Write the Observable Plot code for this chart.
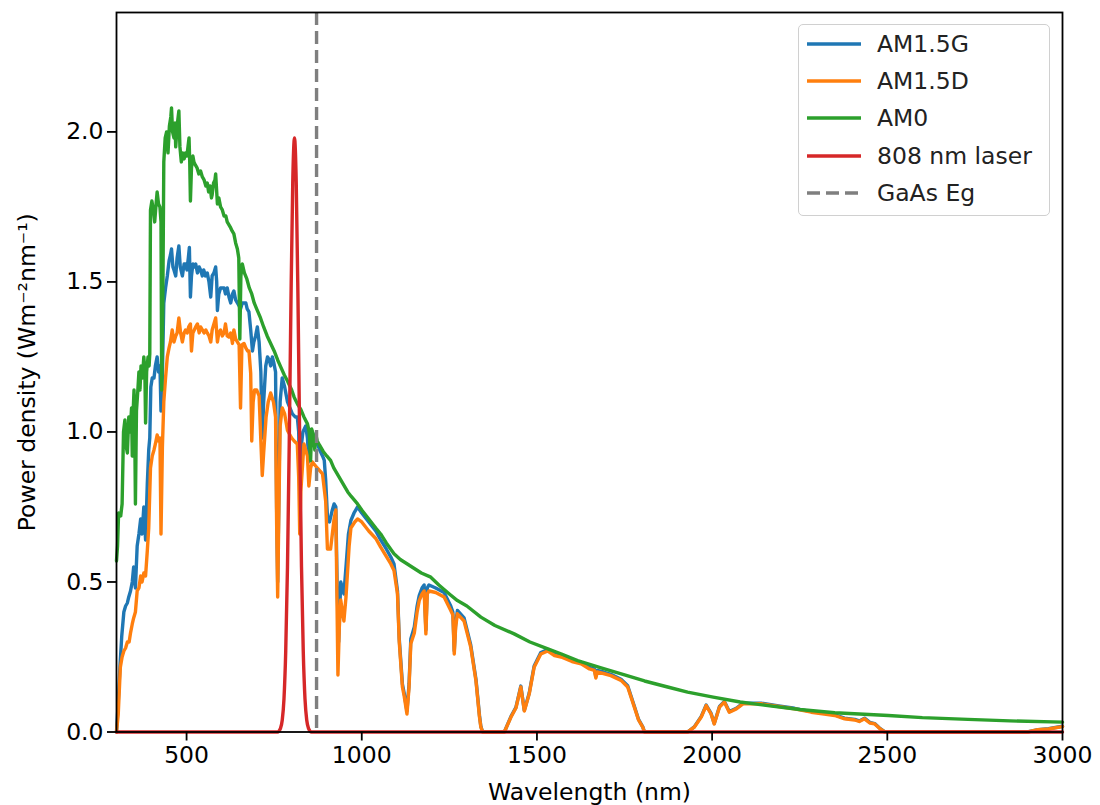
<!DOCTYPE html>
<html>
<head>
<meta charset="utf-8">
<script src="https://cdn.jsdelivr.net/npm/d3@7"></script>
<script src="https://cdn.jsdelivr.net/npm/@observablehq/plot@0.6"></script>
<style>
  html, body { margin: 0; padding: 0; background: #fff; }
  #wrap { position: relative; width: 1100px; height: 805px; overflow: hidden; font-family: "DejaVu Sans", sans-serif; }
  #legend { position: absolute; left: 798px; top: 24px; width: 252px; height: 192px; border: 1.5px solid #d0d0d0; border-radius: 5px; background: rgba(255,255,255,0.8); box-sizing: border-box; }
  .entry { position: absolute; left: 0; height: 30px; display: flex; align-items: center; font-size: 23.5px; color: #222; white-space: nowrap; }
  .entry svg { margin-left: 8px; margin-right: 16px; }
</style>
</head>
<body>
<div id="wrap"><div id="chart"></div><div id="legend"></div></div>
<script>
// ---- data ----
const am15gNm = [300,305,310,315,321,326,331,335,340,345,349,354,359,364,369,373,378,383,388,392,395,398,402,407,411,416,420,424,427,430,435,440,445,450,454,457,461,464,469,473,478,482,488,493,497,501,505,508,511,514,518,522,526,531,536,540,545,549,554,559,564,569,573,578,583,586,588,592,597,602,607,611,616,621,626,631,635,640,645,650,654,659,664,669,673,678,683,688,692,697,702,707,712,716,720,726,731,736,740,745,749,754,757,760,763,767,773,780,788,795,802,810,816,820,823,826,832,840,845,849,854,859,866,873,880,888,893,897,902,908,916,921,926,930,934,940,945,949,955,962,969,978,988,1000,1020,1040,1054,1070,1083,1092,1102,1107,1116,1121,1129,1135,1140,1150,1158,1164,1172,1178,1183,1187,1192,1211,1235,1254,1260,1264,1268,1273,1292,1311,1326,1336,1340,1345,1407,1426,1440,1454,1464,1478,1492,1511,1531,1550,1569,1600,1626,1650,1664,1668,1672,1690,1711,1740,1759,1778,1790,1802,1807,1930,1949,1969,1983,1997,2006,2021,2035,2049,2069,2088,2140,2190,2235,2283,2320,2350,2378,2407,2420,2435,2450,2464,2480,2493,2900,2930,2960,2980,3000];
const am15gVal = [0.0,0.10,0.22,0.32,0.40,0.42,0.43,0.45,0.47,0.50,0.55,0.48,0.62,0.66,0.71,0.66,0.75,0.64,0.83,0.94,0.98,1.15,1.18,1.18,1.22,1.25,1.20,1.22,1.07,1.14,1.43,1.48,1.52,1.57,1.59,1.61,1.55,1.54,1.52,1.58,1.62,1.55,1.52,1.56,1.56,1.54,1.58,1.615,1.45,1.52,1.56,1.55,1.56,1.53,1.55,1.54,1.52,1.54,1.52,1.53,1.50,1.45,1.52,1.53,1.55,1.50,1.405,1.46,1.48,1.48,1.48,1.46,1.48,1.45,1.43,1.46,1.47,1.44,1.43,1.42,1.41,1.43,1.43,1.43,1.41,1.40,1.34,1.27,1.30,1.32,1.35,1.30,1.20,0.98,1.10,1.22,1.25,1.24,1.22,1.25,1.23,1.20,0.75,0.50,0.75,1.10,1.18,1.15,1.10,1.08,1.06,1.05,1.05,1.00,0.80,0.94,1.00,1.02,0.98,0.90,0.97,1.00,0.97,0.96,0.94,0.92,0.905,0.84,0.72,0.70,0.74,0.76,0.75,0.47,0.30,0.50,0.48,0.46,0.55,0.66,0.705,0.73,0.75,0.73,0.70,0.67,0.64,0.61,0.583,0.56,0.47,0.31,0.16,0.13,0.07,0.16,0.31,0.35,0.42,0.455,0.48,0.49,0.34,0.48,0.49,0.48,0.465,0.42,0.40,0.27,0.36,0.405,0.38,0.29,0.175,0.055,0.018,0.0,0.0,0.052,0.082,0.153,0.072,0.13,0.22,0.265,0.275,0.26,0.255,0.24,0.232,0.215,0.21,0.185,0.205,0.20,0.192,0.176,0.154,0.086,0.042,0.017,0.0,0.0,0.017,0.052,0.09,0.062,0.028,0.085,0.102,0.068,0.079,0.096,0.096,0.087,0.079,0.068,0.062,0.057,0.046,0.042,0.037,0.046,0.032,0.028,0.011,0.0,0.0,0.008,0.011,0.015,0.019];

const am15dNm = [300,305,311,316,321,326,331,336,340,345,349,354,359,364,369,373,378,383,388,392,397,402,407,411,416,420,424,427,431,435,440,445,450,454,459,464,469,473,478,483,488,493,497,502,506,511,514,518,522,526,531,536,540,545,550,555,559,564,569,573,578,583,588,592,597,602,607,611,616,621,626,631,635,640,645,650,654,658,664,669,674,678,683,686,690,694,700,707,712,716,720,727,733,740,748,754,757,760,763,767,773,780,788,800,807,816,820,823,826,835,845,849,854,859,866,873,888,897,902,911,916,921,926,932,936,940,945,949,955,964,969,980,988,1000,1020,1040,1054,1070,1083,1092,1102,1107,1116,1121,1129,1135,1140,1150,1158,1164,1172,1178,1183,1187,1192,1211,1235,1254,1260,1264,1268,1273,1292,1311,1326,1336,1340,1345,1407,1426,1440,1454,1464,1478,1492,1511,1531,1550,1569,1600,1626,1650,1664,1668,1672,1690,1711,1740,1759,1778,1790,1802,1807,1930,1949,1969,1983,1997,2006,2021,2035,2049,2069,2088,2140,2190,2235,2283,2320,2350,2378,2407,2420,2435,2450,2464,2480,2493,2900,2930,2960,2980,3000];
const am15dVal = [0.0,0.06,0.216,0.25,0.27,0.28,0.30,0.30,0.33,0.36,0.38,0.40,0.47,0.48,0.52,0.50,0.53,0.52,0.605,0.68,0.88,0.92,0.94,0.96,0.99,0.97,0.98,0.66,0.95,1.10,1.18,1.25,1.28,1.30,1.34,1.30,1.32,1.33,1.38,1.33,1.30,1.33,1.34,1.33,1.35,1.36,1.27,1.33,1.34,1.35,1.36,1.33,1.35,1.34,1.33,1.34,1.33,1.32,1.30,1.34,1.36,1.38,1.30,1.33,1.34,1.32,1.33,1.36,1.32,1.316,1.33,1.295,1.34,1.31,1.30,1.29,1.08,1.29,1.295,1.28,1.27,1.27,1.195,0.97,1.10,1.14,1.14,1.12,0.97,0.855,0.93,1.05,1.10,1.13,1.10,1.05,0.70,0.45,0.70,1.02,1.08,1.06,1.005,0.98,0.97,0.96,0.85,0.66,0.80,0.96,0.92,0.82,0.88,0.90,0.89,0.88,0.86,0.77,0.61,0.61,0.66,0.71,0.74,0.19,0.35,0.44,0.40,0.37,0.45,0.62,0.68,0.70,0.71,0.70,0.67,0.645,0.616,0.585,0.56,0.538,0.46,0.30,0.15,0.12,0.06,0.15,0.294,0.33,0.40,0.438,0.46,0.47,0.327,0.46,0.47,0.465,0.45,0.405,0.39,0.26,0.35,0.394,0.37,0.283,0.17,0.05,0.016,0.0,0.0,0.05,0.08,0.15,0.07,0.127,0.216,0.26,0.27,0.255,0.25,0.235,0.227,0.21,0.205,0.18,0.20,0.195,0.188,0.172,0.15,0.083,0.04,0.016,0.0,0.0,0.016,0.05,0.088,0.06,0.027,0.083,0.10,0.066,0.077,0.094,0.094,0.085,0.077,0.066,0.06,0.055,0.044,0.04,0.035,0.044,0.03,0.027,0.01,0.0,0.0,0.008,0.01,0.014,0.018];

const am0Nm = [300,303,306,312,316,320,324,328,331,335,339,343,345,347,350,352,354,357,361,364,367,370,374,378,381,383,386,390,393,395,397,401,405,409,413,416,420,424,427,429,432,435,439,443,447,451,455,457,460,464,467,469,472,475,478,481,485,489,493,497,501,504,507,509,511,514,518,521,525,530,535,540,545,550,555,559,563,567,571,573,577,581,583,586,588,592,597,602,607,612,616,621,626,630,635,640,645,649,652,655,659,665,672,679,686,693,700,711,720,730,740,750,760,769,779,788,800,807,818,826,835,845,850,854,857,862,866,869,873,880,890,900,911,920,930,940,950,960,970,988,1000,1020,1040,1054,1070,1092,1110,1130,1150,1170,1197,1220,1250,1273,1300,1340,1380,1435,1480,1531,1570,1616,1683,1750,1807,1873,1930,2003,2080,2159,2250,2350,2420,2503,2600,2730,2850,3000];
const am0Val = [0.57,0.62,0.73,0.72,0.76,1.00,1.04,0.95,0.93,1.05,1.00,1.08,0.92,1.05,1.14,1.02,0.76,1.07,1.14,1.20,1.14,1.22,1.18,1.25,1.20,1.03,1.20,1.25,1.22,1.26,1.74,1.77,1.74,1.70,1.76,1.80,1.76,1.75,1.70,1.14,1.40,1.90,1.98,2.00,1.93,2.02,2.05,2.08,2.00,1.98,2.03,1.95,2.00,2.04,2.07,1.95,1.90,1.93,1.91,1.93,1.92,1.95,1.98,1.90,1.77,1.88,1.92,1.90,1.89,1.88,1.86,1.87,1.85,1.84,1.82,1.83,1.80,1.82,1.78,1.79,1.83,1.84,1.86,1.80,1.76,1.78,1.75,1.74,1.72,1.72,1.70,1.69,1.68,1.67,1.66,1.63,1.61,1.58,1.31,1.52,1.56,1.53,1.51,1.48,1.46,1.43,1.41,1.38,1.35,1.32,1.295,1.27,1.24,1.216,1.19,1.17,1.14,1.116,1.09,1.075,1.05,1.027,1.00,0.905,1.01,0.99,0.94,0.99,0.97,0.955,0.935,0.92,0.905,0.88,0.86,0.84,0.82,0.80,0.785,0.76,0.74,0.71,0.68,0.66,0.63,0.594,0.575,0.56,0.545,0.53,0.516,0.49,0.46,0.438,0.42,0.383,0.355,0.327,0.30,0.277,0.26,0.238,0.214,0.19,0.17,0.15,0.133,0.116,0.10,0.088,0.075,0.064,0.06,0.055,0.048,0.042,0.037,0.033];

const laserNm  = [300,750,760,768,773,778,783,788,793,798,803,808,813,818,823,828,833,838,843,848,856,866,3000];
const laserVal = [0,0,0,0.012,0.039,0.11,0.27,0.55,0.96,1.44,1.83,1.98,1.83,1.44,0.96,0.55,0.27,0.11,0.039,0.012,0,0,0];

const gaasEgNm = [871];
const seriesNames = ["AM1.5G", "AM1.5D", "AM0", "808 nm laser", "GaAs Eg"];
const seriesColors = ["#1f77b4", "#ff7f0e", "#2ca02c", "#d62728", "#7f7f7f"];
const xTicks = [500, 1000, 1500, 2000, 2500, 3000];
const yTicks = [0.0, 0.5, 1.0, 1.5, 2.0];

// ---- build rows ----
const rows = (nm, val) => nm.map((x, i) => ({nm: x, v: val[i]}));
const FS = 23.5;

const chart = Plot.plot({
  width: 1100,
  height: 820,
  marginLeft: 116,
  marginRight: 38,
  marginTop: 12,
  marginBottom: 88.5,
  style: {fontFamily: "DejaVu Sans", fontSize: FS + "px", color: "#000", background: "#fff", overflow: "visible"},
  x: {domain: [300, 3000]},
  y: {domain: [0, 2.398]},
  marks: [
    Plot.line(rows(am15gNm, am15gVal), {x: "nm", y: "v", stroke: seriesColors[0], strokeWidth: 3.4}),
    Plot.line(rows(am15dNm, am15dVal), {x: "nm", y: "v", stroke: seriesColors[1], strokeWidth: 3.4}),
    Plot.line(rows(am0Nm, am0Val), {x: "nm", y: "v", stroke: seriesColors[2], strokeWidth: 3.4}),
    Plot.line(rows(laserNm, laserVal), {x: "nm", y: "v", stroke: seriesColors[3], strokeWidth: 3.4, curve: "monotone-x"}),
    Plot.ruleX(gaasEgNm, {x: d => d, stroke: seriesColors[4], strokeWidth: 3.4, strokeDasharray: "13,6"}),
    Plot.frame({stroke: "#000", strokeWidth: 1.8}),
    Plot.axisX({ticks: xTicks, tickFormat: d => String(d), tickSize: 9, tickPadding: 5, strokeWidth: 1.8,
      fontSize: FS, label: "Wavelength (nm)", labelAnchor: "center", labelArrow: "none", labelOffset: 68}),
    Plot.axisY({ticks: yTicks, tickFormat: d3.format(".1f"), tickSize: 9, tickPadding: 4, strokeWidth: 1.8,
      fontSize: FS, label: "Power density (Wm⁻²nm⁻¹)", labelAnchor: "center", labelArrow: "none", labelOffset: 98})
  ]
});
document.getElementById("chart").appendChild(chart);

// ---- legend ----
const legend = document.getElementById("legend");
seriesNames.forEach((name, i) => {
  const e = document.createElement("div");
  e.className = "entry";
  e.style.top = (4 + i * 37.2) + "px";
  const dash = i === 4 ? 'stroke-dasharray="13,6"' : "";
  e.innerHTML = `<svg width="54" height="10"><line x1="0" y1="5" x2="54" y2="5" stroke="${seriesColors[i]}" stroke-width="3.4" ${dash}/></svg><span>${name}</span>`;
  legend.appendChild(e);
});
</script>
</body>
</html>
